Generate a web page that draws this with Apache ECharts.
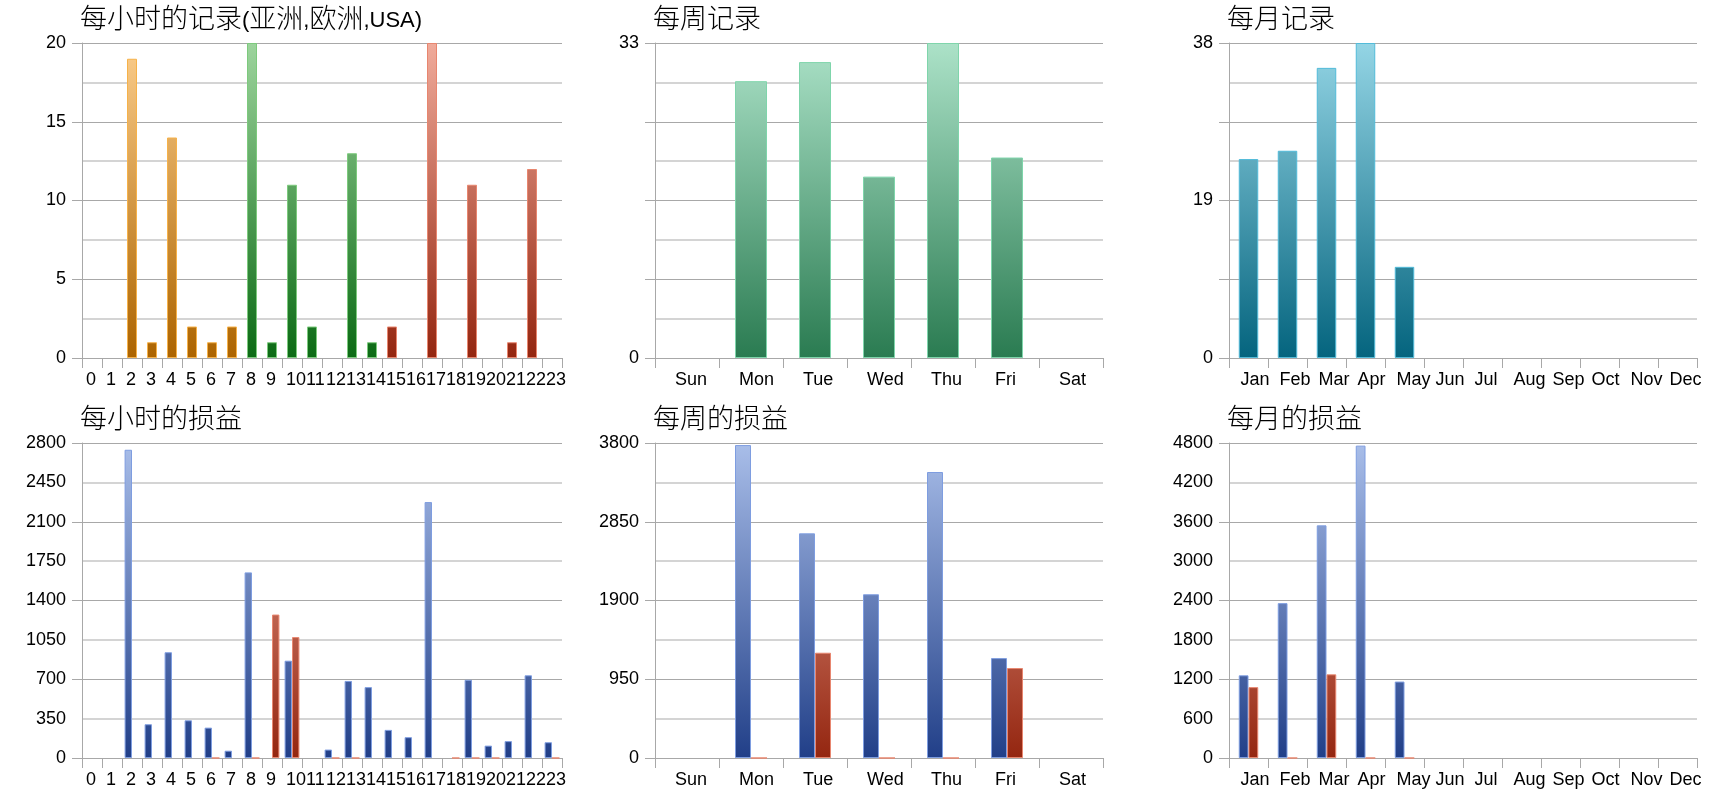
<!DOCTYPE html>
<html>
<head>
<meta charset="utf-8">
<title>记录与损益</title>
<script src="https://cdn.jsdelivr.net/npm/echarts@6/dist/echarts.min.js"></script>
<style>
html, body { margin: 0; padding: 0; background: #fff; }
#main { width: 1720px; height: 800px; }
</style>
</head>
<body>
<div id="main"></div>
<script>
// 分类
var hours = ['0', '1', '2', '3', '4', '5', '6', '7', '8', '9', '10', '11',
    '12', '13', '14', '15', '16', '17', '18', '19', '20', '21', '22', '23'];
var weekdays = ['Sun', 'Mon', 'Tue', 'Wed', 'Thu', 'Fri', 'Sat'];
var months = ['Jan', 'Feb', 'Mar', 'Apr', 'May', 'Jun', 'Jul', 'Aug', 'Sep', 'Oct', 'Nov', 'Dec'];

// 每小时的记录（亚洲 / 欧洲 / USA）
var asiaCounts = [null, null, 19, 1, 14, 2, 1, 2, null, null, null, null,
    null, null, null, null, null, null, null, null, null, null, null, null];
var europeCounts = [null, null, null, null, null, null, null, null, 20, 1, 11, 2,
    null, 13, 1, null, null, null, null, null, null, null, null, null];
var usaCounts = [null, null, null, null, null, null, null, null, null, null, null, null,
    null, null, null, 2, null, 20, null, 11, null, 1, 12, null];

// 每周 / 每月记录
var weekCounts = [null, 29, 31, 19, 33, 21, null];
var monthCounts = [24, 25, 35, 38, 11, null, null, null, null, null, null, null];

// 损益（蓝 = 盈利，红 = 亏损）
var hourProfit = [null, null, 2740, 300, 940, 335, 270, 65, 1650, null, 865, null,
    75, 685, 630, 250, 185, 2275, null, 695, 110, 150, 735, 140];
var hourLoss = [null, null, null, null, null, null, 0, null, 0, 1275, 1075, null,
    0, 0, null, null, null, null, 0, 0, 0, null, null, 0];
var weekProfit = [null, 3775, 2710, 1975, 3450, 1205, null];
var weekLoss = [null, 0, 1270, 0, 0, 1085, null];
var monthProfit = [1260, 2360, 3545, 4760, 1165, null, null, null, null, null, null, null];
var monthLoss = [1080, 0, 1275, 0, 0, null, null, null, null, null, null, null];

// 纵轴刻度
var hourCountTicks = [0, 5, 10, 15, 20];
var weekCountTicks = [0, 33];
var monthCountTicks = [0, 19, 38];
var hourPLTicks = [0, 350, 700, 1050, 1400, 1750, 2100, 2450, 2800];
var weekPLTicks = [0, 950, 1900, 2850, 3800];
var monthPLTicks = [0, 600, 1200, 1800, 2400, 3000, 3600, 4200, 4800];

var FONT = '"Liberation Sans", Arial, "Noto Sans CJK SC", sans-serif';
var AXIS_GRAY = '#a8a8a8';

var cols = [{ left: 82, width: 480 }, { left: 655, width: 448 }, { left: 1229, width: 468 }];
var rows = [{ top: 43, height: 315 }, { top: 443, height: 315 }];

var palette = {
    orange: ['#fbcd8c', '#ac6400', '#f6b24a'],
    green: ['#9dd49d', '#0b6a14', '#7dca7d'],
    red: ['#f0ab9b', '#942610', '#e8866f'],
    mint: ['#ace2c8', '#2a7b51', '#7fd5ab'],
    teal: ['#94d5e5', '#04647e', '#52bbd9'],
    blue: ['#a9bee9', '#213f88', '#7e9de0']
};

var panels = [
    { title: '每小时的记录(亚洲,欧洲,USA)', col: 0, row: 0, cats: hours, ticks: hourCountTicks, shift: -6, gap: '50%',
      data: [[asiaCounts, 'orange'], [europeCounts, 'green'], [usaCounts, 'red']], stack: true },
    { title: '每周记录', col: 1, row: 0, cats: weekdays, ticks: weekCountTicks, shift: -12, gap: '50%',
      data: [[weekCounts, 'mint']] },
    { title: '每月记录', col: 2, row: 0, cats: months, ticks: monthCountTicks, shift: -8, gap: '50%',
      data: [[monthCounts, 'teal']] },
    { title: '每小时的损益', col: 0, row: 1, cats: hours, ticks: hourPLTicks, shift: -6, gap: '26%',
      data: [[hourProfit, 'blue'], [hourLoss, 'red']] },
    { title: '每周的损益', col: 1, row: 1, cats: weekdays, ticks: weekPLTicks, shift: -12, gap: '50%',
      data: [[weekProfit, 'blue'], [weekLoss, 'red']] },
    { title: '每月的损益', col: 2, row: 1, cats: months, ticks: monthPLTicks, shift: -8, gap: '50%',
      data: [[monthProfit, 'blue'], [monthLoss, 'red']] }
];

// 中文和拉丁字母分开设字号
function richTitle(s) {
    return s.replace(/([\u4e00-\u9fff]+)|([^\u4e00-\u9fff]+)/g, function (m, cjk) {
        return cjk ? '{c|' + m + '}' : '{l|' + m + '}';
    });
}

var option = {
    animation: false,
    backgroundColor: '#fff',
    title: [], grid: [], xAxis: [], yAxis: [], series: []
};

panels.forEach(function (p, i) {
    var c = cols[p.col], r = rows[p.row];
    var top = p.ticks[p.ticks.length - 1];

    option.title.push({
        text: richTitle(p.title),
        left: c.left - 2,
        top: r.top - 40,
        padding: 0,
        textStyle: {
            fontFamily: FONT, fontSize: 22, fontWeight: 'normal', color: '#000',
            rich: {
                c: { fontFamily: '"Noto Sans CJK SC", sans-serif', fontSize: 27, lineHeight: 30, fontWeight: 300, color: '#000' },
                l: { fontFamily: FONT, fontSize: 22, lineHeight: 22, padding: [6, 0, 0, 0], color: '#000' }
            }
        }
    });

    option.grid.push({
        left: c.left, top: r.top, width: c.width, height: r.height,
        containLabel: false, outerBoundsMode: 'none'
    });

    option.xAxis.push({
        type: 'category', gridIndex: i, data: p.cats, boundaryGap: true,
        axisLine: { show: true, lineStyle: { color: AXIS_GRAY, width: 1 } },
        axisTick: { show: true, length: 10, interval: 0, lineStyle: { color: AXIS_GRAY } },
        axisLabel: {
            interval: 0, hideOverlap: false, margin: 13, align: 'left',
            padding: [0, 0, 0, p.shift],
            fontFamily: FONT, fontSize: 18, color: '#000'
        },
        splitLine: { show: false }
    });

    // 网格线轴
    option.yAxis.push({
        type: 'value', gridIndex: i, position: 'left', min: 0, max: top, interval: top / 4,
        axisLine: { show: true, lineStyle: { color: AXIS_GRAY, width: 1 } },
        axisTick: { show: true, length: 10, lineStyle: { color: AXIS_GRAY } },
        axisLabel: { show: false },
        splitLine: { show: true, lineStyle: { color: '#a8a8a8', width: 1 } },
        minorTick: { show: false, splitNumber: 2 },
        minorSplitLine: { show: true, lineStyle: { color: '#d4d4d4', width: 2 } }
    });
    // 标签轴
    option.yAxis.push({
        type: 'value', gridIndex: i, position: 'left', min: 0, max: top,
        interval: p.ticks[1] - p.ticks[0],
        axisLine: { show: false }, axisTick: { show: false },
        splitLine: { show: false },
        axisLabel: {
            show: true, margin: 16, fontFamily: FONT, fontSize: 18, color: '#000',
            showMinLabel: true, showMaxLabel: true,
            formatter: function (v) { return String(v); }
        }
    });

    p.data.forEach(function (d) {
        var pc = palette[d[1]];
        option.series.push({
            type: 'bar', xAxisIndex: i, yAxisIndex: i * 2,
            data: d[0],
            stack: p.stack ? 'rec' + i : undefined,
            barCategoryGap: p.gap, barGap: 0,
            itemStyle: {
                color: new echarts.graphic.LinearGradient(0, r.top, 0, r.top + r.height, [
                    { offset: 0, color: pc[0] }, { offset: 1, color: pc[1] }
                ], true),
                borderColor: pc[2], borderWidth: 1
            },
            emphasis: { disabled: true }
        });
    });
});

var myChart = echarts.init(document.getElementById('main'));
myChart.setOption(option);
</script>
</body>
</html>
